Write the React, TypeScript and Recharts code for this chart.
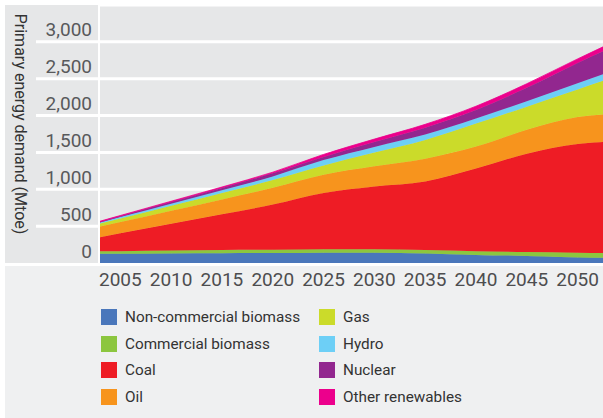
import { AreaChart, Area, XAxis, YAxis, CartesianGrid } from 'recharts';

const years = [2003, 2005, 2010, 2015, 2020, 2025, 2030, 2035, 2040, 2045, 2050, 2052.5];
const nonCommercialBiomass = [125, 126, 130, 133, 135, 140, 140, 130, 110, 95, 75, 70];
const commercialBiomass = [35, 35, 40, 42, 45, 45, 47, 45, 50, 55, 65, 65];
const coal = [190, 241, 361, 485, 613, 766, 851, 931, 1121, 1332, 1475, 1507];
const oil = [145, 154, 179, 203, 227, 246, 273, 309, 298, 324, 365, 372];
const gas = [40, 48, 67, 87, 106, 127, 188, 255, 312, 315, 374, 457];
const hydro = [15, 19, 28, 37, 49, 72, 76, 73, 69, 74, 85, 89];
const nuclear = [7, 11, 22, 32, 41, 43, 65, 92, 115, 183, 275, 314];
const otherRenewables = [10, 10, 11, 12, 16, 34, 41, 46, 52, 54, 55, 58];

const yearTicks = [2005, 2010, 2015, 2020, 2025, 2030, 2035, 2040, 2045, 2050];
const valueTicks = [0, 500, 1000, 1500, 2000, 2500, 3000];

const series = [
  { key: 'ncb', name: 'Non-commercial biomass', color: '#4a77bb', values: nonCommercialBiomass },
  { key: 'cb', name: 'Commercial biomass', color: '#8cc63f', values: commercialBiomass },
  { key: 'coal', name: 'Coal', color: '#ee1c25', values: coal },
  { key: 'oil', name: 'Oil', color: '#f7941d', values: oil },
  { key: 'gas', name: 'Gas', color: '#cbdb2a', values: gas },
  { key: 'hydro', name: 'Hydro', color: '#6dcff6', values: hydro },
  { key: 'nuclear', name: 'Nuclear', color: '#92278f', values: nuclear },
  { key: 'other', name: 'Other renewables', color: '#ec008c', values: otherRenewables },
];

const data = years.map((year, i) => {
  const row: Record<string, number> = { year };
  series.forEach(s => { row[s.key] = s.values[i]; });
  return row;
});

const FONT = 'Roboto, sans-serif';

const YTick = (props: any) => {
  const { y, payload } = props;
  return (
    <g>
      {payload.value !== 0 && (
        <line x1={36} x2={98} y1={y} y2={y} stroke="#fff" strokeWidth={3} />
      )}
      <text x={92} y={y - 5.5} textAnchor="end" fill="#58595b" fontSize={19} fontFamily={FONT}>
        {payload.value.toLocaleString('en-US')}
      </text>
    </g>
  );
};

export default function App() {
  const col1 = series.slice(0, 4);
  const col2 = series.slice(4);
  return (
    <div style={{ position: 'absolute', left: 0, top: 0, width: 603, height: 418, background: '#fff', overflow: 'hidden', fontFamily: FONT }}>
      <div style={{ position: 'absolute', left: 5, top: 5, width: 93, height: 258, background: '#e6e7e8' }} />
      <div style={{ position: 'absolute', left: 100, top: 5, width: 503, height: 258, background: '#e6e7e8' }} />
      <div style={{ position: 'absolute', left: 5, top: 266, width: 598, height: 152, background: '#eff0f1' }} />
      <div style={{ position: 'absolute', left: 0, top: 0 }}>
        <AreaChart width={603} height={300} data={data} margin={{ top: 5, right: 0, bottom: 0, left: 0 }}>
          <CartesianGrid vertical={false} stroke="#fff" strokeWidth={3} />
          <XAxis
            dataKey="year"
            type="number"
            domain={[2003, 2052.5]}
            ticks={yearTicks}
            axisLine={false}
            tickLine={false}
            height={37}
            tickMargin={4}
            tick={{ fill: '#4d4d4f', fontSize: 19, fontFamily: FONT }}
          />
          <YAxis
            type="number"
            domain={[0, 3500]}
            ticks={valueTicks}
            width={100}
            axisLine={false}
            tickLine={false}
            tick={YTick}
          />
          {series.map(s => (
            <Area
              key={s.key}
              dataKey={s.key}
              stackId="1"
              type="monotone"
              fill={s.color}
              fillOpacity={1}
              stroke={s.color}
              strokeWidth={0.8}
              isAnimationActive={false}
            />
          ))}
        </AreaChart>
      </div>
      <svg style={{ position: 'absolute', left: 0, top: 0 }} width={40} height={263}>
        <text
          transform="translate(20,124) rotate(90)"
          textAnchor="middle"
          dominantBaseline="central"
          fill="#333"
          fontSize={16}
          fontFamily={FONT}
        >
          Primary energy demand (Mtoe)
        </text>
      </svg>
      {[col1, col2].map((col, ci) => (
        <div key={ci} style={{ position: 'absolute', left: ci === 0 ? 101 : 319, top: 304 }}>
          {col.map(s => (
            <div key={s.key} style={{ display: 'flex', alignItems: 'center', height: 26.6 }}>
              <div style={{ width: 16, height: 16, background: s.color }} />
              <span style={{ marginLeft: 8, fontSize: 15.3, color: '#333' }}>{s.name}</span>
            </div>
          ))}
        </div>
      ))}
    </div>
  );
}
